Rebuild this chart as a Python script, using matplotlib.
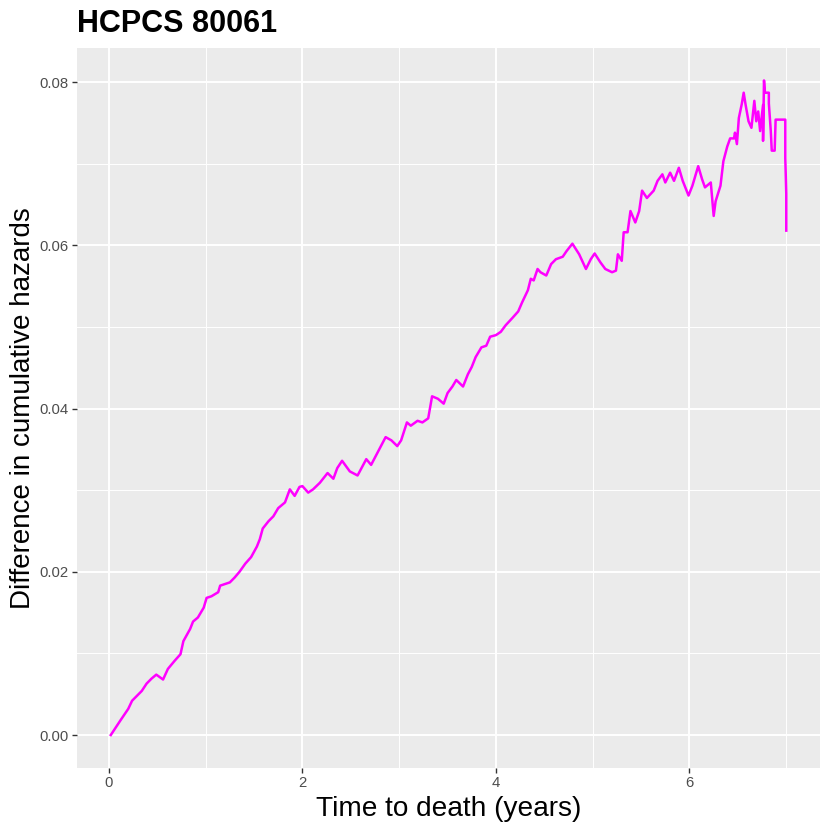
import matplotlib
matplotlib.use("Agg")
import matplotlib.pyplot as plt
from matplotlib.ticker import MultipleLocator

# curve (time in years, difference in cumulative hazards)
time_years = [0.02, 0.12, 0.20, 0.24, 0.34, 0.39, 0.44, 0.49, 0.56, 0.61, 0.68,
              0.74, 0.77, 0.84, 0.87, 0.92, 0.98, 1.01, 1.06, 1.13, 1.15, 1.25,
              1.30, 1.35, 1.41, 1.47, 1.53, 1.56, 1.59, 1.65, 1.70, 1.75, 1.82,
              1.87, 1.92, 1.97, 2.00, 2.06, 2.11, 2.18, 2.26, 2.32, 2.36, 2.41,
              2.49, 2.57, 2.66, 2.71, 2.78, 2.86, 2.92, 2.98, 3.02, 3.08, 3.12,
              3.19, 3.24, 3.30, 3.34, 3.40, 3.46, 3.50, 3.55, 3.59, 3.66, 3.71,
              3.75, 3.79, 3.85, 3.90, 3.94, 4.00, 4.05, 4.10, 4.17, 4.23, 4.27,
              4.33, 4.36, 4.39, 4.43, 4.46, 4.52, 4.57, 4.62, 4.69, 4.73, 4.79,
              4.86, 4.93, 4.98, 5.02, 5.08, 5.13, 5.20, 5.24, 5.26, 5.30, 5.32,
              5.36, 5.39, 5.44, 5.48, 5.51, 5.56, 5.63, 5.67, 5.72, 5.75, 5.80,
              5.84, 5.89, 5.93, 5.99, 6.03, 6.09, 6.13, 6.16, 6.22, 6.25, 6.27,
              6.32, 6.35, 6.39, 6.42, 6.46, 6.47, 6.49, 6.51, 6.54, 6.56, 6.58,
              6.61, 6.64, 6.67, 6.69, 6.71, 6.73, 6.76, 6.76, 6.77, 6.78, 6.82,
              6.82, 6.84, 6.85, 6.88, 6.89, 6.99, 6.99, 7.00, 7.00]
hazard_diff = [0.0000, 0.0018, 0.0032, 0.0042, 0.0054, 0.0063, 0.0069, 0.0074,
               0.0068, 0.0081, 0.0091, 0.0099, 0.0115, 0.0130, 0.0139, 0.0144,
               0.0156, 0.0168, 0.0170, 0.0175, 0.0183, 0.0187, 0.0193, 0.0200,
               0.0210, 0.0218, 0.0231, 0.0240, 0.0253, 0.0262, 0.0268, 0.0278,
               0.0285, 0.0301, 0.0293, 0.0304, 0.0305, 0.0297, 0.0301, 0.0309,
               0.0321, 0.0314, 0.0327, 0.0336, 0.0323, 0.0318, 0.0338, 0.0331,
               0.0347, 0.0365, 0.0361, 0.0354, 0.0361, 0.0383, 0.0379, 0.0385,
               0.0383, 0.0388, 0.0415, 0.0412, 0.0406, 0.0419, 0.0427, 0.0435,
               0.0427, 0.0442, 0.0451, 0.0463, 0.0475, 0.0477, 0.0488, 0.0490,
               0.0494, 0.0502, 0.0511, 0.0519, 0.0530, 0.0545, 0.0559, 0.0557,
               0.0571, 0.0567, 0.0563, 0.0577, 0.0583, 0.0586, 0.0593, 0.0602,
               0.0589, 0.0571, 0.0583, 0.0590, 0.0579, 0.0571, 0.0567, 0.0569,
               0.0589, 0.0581, 0.0616, 0.0616, 0.0642, 0.0628, 0.0642, 0.0667,
               0.0658, 0.0667, 0.0679, 0.0687, 0.0677, 0.0689, 0.0679, 0.0695,
               0.0679, 0.0661, 0.0673, 0.0697, 0.0681, 0.0671, 0.0677, 0.0636,
               0.0654, 0.0673, 0.0703, 0.0721, 0.0731, 0.0731, 0.0738, 0.0724,
               0.0756, 0.0773, 0.0787, 0.0772, 0.0752, 0.0744, 0.0777, 0.0752,
               0.0764, 0.0740, 0.0772, 0.0728, 0.0802, 0.0787, 0.0787, 0.0774,
               0.0740, 0.0716, 0.0716, 0.0754, 0.0754, 0.0707, 0.0663, 0.0618]

plt.rcParams['font.family'] = ['Liberation Sans', 'DejaVu Sans']

fig = plt.figure(figsize=(8.3, 8.3), dpi=100)
ax = fig.add_axes([0.0928, 0.075, 0.8952, 0.8675])

ax.set_facecolor('#EBEBEB')
ax.plot(time_years, hazard_diff, color='#FF00FF', linewidth=1.8, zorder=3)

# ggplot-like expansion of 5%
x0, x1 = min(time_years), max(time_years)
y0, y1 = min(hazard_diff), max(hazard_diff)
ax.set_xlim(x0 - 0.05 * (x1 - x0), x1 + 0.05 * (x1 - x0))
ax.set_ylim(y0 - 0.05 * (y1 - y0), y1 + 0.05 * (y1 - y0))

ax.xaxis.set_major_locator(MultipleLocator(2))
ax.xaxis.set_minor_locator(MultipleLocator(1))
ax.yaxis.set_major_locator(MultipleLocator(0.02))
ax.yaxis.set_minor_locator(MultipleLocator(0.01))
ax.xaxis.set_major_formatter(plt.FuncFormatter(lambda v, p: '%d' % v))
ax.yaxis.set_major_formatter(plt.FuncFormatter(lambda v, p: '%.2f' % v))

ax.grid(which='major', color='white', linewidth=1.4)
ax.grid(which='minor', color='white', linewidth=0.7)
ax.set_axisbelow(True)
for s in ax.spines.values():
    s.set_visible(False)

ax.tick_params(which='major', length=3.6, width=1.0, color='#333333',
               labelsize=10.7, labelcolor='#4D4D4D', pad=2.5)
ax.tick_params(which='minor', length=0)

ax.set_xlabel('Time to death (years)', fontsize=20.2, color='black', labelpad=4)
ax.set_ylabel('Difference in cumulative hazards', fontsize=20.0, color='black', labelpad=2.5)
fig.text(0.0928, 1 - 31.7 / 830, 'HCPCS 80061', fontsize=22, fontweight='bold',
         ha='left', va='baseline')

fig.savefig('out.png', dpi=100)
